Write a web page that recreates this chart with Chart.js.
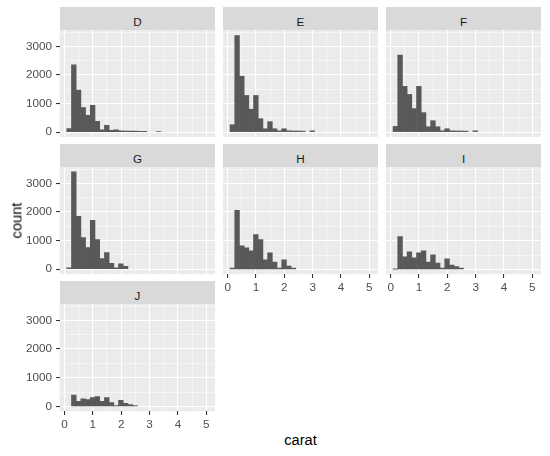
<!DOCTYPE html>
<html>
<head>
<meta charset="utf-8">
<script src="https://cdn.jsdelivr.net/npm/chart.js@4.4.1/dist/chart.umd.min.js"></script>
<style>
html,body{margin:0;padding:0;background:#ffffff;width:550px;height:456px;overflow:hidden;font-family:"Liberation Sans",Arial,sans-serif;}
.strip{position:absolute;background:#D9D9D9;color:#1A1A1A;font-size:11.7px;text-align:center;box-sizing:border-box;}
.strip span{display:block;line-height:23px;position:relative;top:2.5px;}
canvas{position:absolute;}
.axtitle{position:absolute;color:#000000;font-size:14.67px;font-weight:normal;line-height:17px;text-align:center;white-space:nowrap;}
</style>
</head>
<body>
<script>
// ---- data ----
const facetLabels = ['D','E','F','G','H','I','J'];
const binCenters = [0.166,0.332,0.498,0.663,0.829,0.995,1.161,1.327,1.493,1.659,
                    1.825,1.990,2.156,2.322,2.488,2.654,2.820,2.986,3.151,3.317,
                    3.483,3.649,3.815,3.981,4.147,4.312,4.478,4.644,4.810,4.976];
const countD = [120,2350,1470,860,590,940,376,82,235,59,82,45,40,40,35,30,25,0,0,20,0,0,0,0,0,0,0,0,0,0];
const countE = [259,3376,1953,1282,800,1282,470,118,365,118,47,118,47,40,40,35,0,47,0,0,0,0,0,0,0,0,0,0,0,0];
const countF = [200,2694,1600,1318,824,1600,682,188,400,188,47,118,47,40,40,35,0,47,0,0,0,0,0,0,0,0,0,0,0,0];
const countG = [47,3400,1847,1106,753,1706,1035,365,576,200,47,188,94,0,0,0,0,0,0,0,0,0,0,0,0,0,0,0,0,0];
const countH = [47,2059,824,753,647,1212,1035,329,576,259,47,329,118,47,0,0,0,0,0,0,0,0,0,0,0,0,0,0,0,0];
const countI = [10,1141,435,612,400,576,647,259,506,224,47,365,153,94,47,0,0,0,0,0,0,0,0,0,0,0,0,0,0,0];
const countJ = [0,391,178,261,237,308,344,178,308,130,24,213,107,59,24,0,0,0,0,0,0,0,0,0,0,0,0,0,0,0];
const xBreaks = [0,0.5,1,1.5,2,2.5,3,3.5,4,4.5,5];
const yBreaks = [0,500,1000,1500,2000,2500,3000,3500];
const xTickLabels = ['0','1','2','3','4','5'];
const yTickLabels = ['0','1000','2000','3000'];
const xTitle = 'carat';
const yTitle = 'count';

const counts = [countD,countE,countF,countG,countH,countI,countJ];

// ---- layout ----
const panelLeft = [60, 223, 386];
const panelW = 155;
const stripTop = [7, 144, 281];
const stripH = 23;
const panelH = 107;

// scale limits (ggplot-style 5% expansion)
const bw = binCenters[1] - binCenters[0];
const xLo0 = binCenters[0] - bw/2, xHi0 = binCenters[binCenters.length-1] + bw/2;
const xPad = 0.05 * (xHi0 - xLo0);
const yMaxData = Math.max(...counts.flat());
const yLo = -0.05 * yMaxData, yHi = 1.05 * yMaxData;

const isMajorX = v => xTickLabels.includes(String(Math.round(v*1000)/1000));
const isMajorY = v => yTickLabels.includes(String(Math.round(v)));

Chart.defaults.font.family = '"Liberation Sans", Arial, sans-serif';

const panelBg = {
  id: 'panelBg',
  beforeDraw(chart) {
    const {ctx, chartArea: a} = chart;
    ctx.save();
    ctx.fillStyle = '#EBEBEB';
    ctx.fillRect(a.left, a.top, a.right - a.left, a.bottom - a.top);
    ctx.restore();
  }
};

function makeConfig(i, hasX, hasY) {
  const data = binCenters.map((x, k) => ({x: x, y: counts[i][k] > 0 ? counts[i][k] : null}));
  return {
    type: 'bar',
    data: {datasets: [{data: data, backgroundColor: '#595959', borderWidth: 0, barPercentage: 1, categoryPercentage: 1}]},
    options: {
      responsive: false, maintainAspectRatio: false, animation: false, events: [],
      layout: {padding: 0, autoPadding: false},
      plugins: {legend: {display: false}, tooltip: {enabled: false}, title: {display: false}},
      scales: {
        x: {
          type: 'linear', offset: false, min: xLo0 - xPad, max: xHi0 + xPad,
          afterBuildTicks(s) { s.ticks = xBreaks.map(v => ({value: v})); },
          afterFit(s) { s.paddingLeft = 0; s.paddingRight = 0; },
          border: {display: false},
          grid: {offset: false, color: '#FFFFFF',
            lineWidth: c => isMajorX(c.tick.value) ? 1.07 : 0.53,
            drawTicks: hasX, tickLength: 3.7, tickWidth: 1.07,
            tickColor: c => isMajorX(c.tick.value) ? '#333333' : 'rgba(0,0,0,0)'},
          ticks: {display: hasX, autoSkip: false, maxRotation: 0, minRotation: 0,
            padding: 3, color: '#4D4D4D', font: {size: 11.7},
            callback: v => isMajorX(v) ? String(Math.round(v)) : ''}
        },
        y: {
          type: 'linear', min: yLo, max: yHi,
          afterBuildTicks(s) { s.ticks = yBreaks.map(v => ({value: v})); },
          afterFit(s) { s.paddingTop = 0; s.paddingBottom = 0; },
          border: {display: false},
          grid: {color: '#FFFFFF',
            lineWidth: c => isMajorY(c.tick.value) ? 1.07 : 0.53,
            drawTicks: hasY, tickLength: 3.7, tickWidth: 1.07,
            tickColor: c => isMajorY(c.tick.value) ? '#333333' : 'rgba(0,0,0,0)'},
          ticks: {display: hasY, autoSkip: false,
            padding: 4, color: '#4D4D4D', font: {size: 11.7},
            callback: v => isMajorY(v) ? String(Math.round(v)) : ''}
        }
      }
    },
    plugins: [panelBg]
  };
}

facetLabels.forEach((lab, i) => {
  const row = Math.floor(i / 3), col = i % 3;
  const hasY = col === 0;
  const hasX = row === 2 || (row === 1 && col > 0);
  const pl = panelLeft[col], st = stripTop[row];
  const pt = st + stripH;

  const strip = document.createElement('div');
  strip.className = 'strip';
  strip.style.left = pl + 'px'; strip.style.top = st + 'px';
  strip.style.width = panelW + 'px'; strip.style.height = stripH + 'px';
  const sp = document.createElement('span'); sp.textContent = lab;
  strip.appendChild(sp); document.body.appendChild(strip);

  // pass 1: measure the space the axes take
  const cv1 = document.createElement('canvas');
  cv1.width = panelW + 80; cv1.height = panelH + 40;
  cv1.style.left = '0px'; cv1.style.top = '0px';
  document.body.appendChild(cv1);
  const c1 = new Chart(cv1, makeConfig(i, hasX, hasY));
  const a1 = c1.chartArea;
  const extraL = a1.left, extraT = a1.top;
  const extraR = c1.width - a1.right, extraB = c1.height - a1.bottom;
  c1.destroy(); cv1.remove();

  // pass 2: exact size so the plot area matches the panel
  const cv = document.createElement('canvas');
  cv.width = Math.round(panelW + extraL + extraR);
  cv.height = Math.round(panelH + extraT + extraB);
  document.body.appendChild(cv);
  const c2 = new Chart(cv, makeConfig(i, hasX, hasY));
  const a2 = c2.chartArea;
  cv.style.left = (pl - a2.left) + 'px';
  cv.style.top = (pt - a2.top) + 'px';
});

// axis titles
const xt = document.createElement('div');
xt.className = 'axtitle'; xt.textContent = xTitle; xt.style.width = '80px';
xt.style.left = ((panelLeft[0] + panelLeft[2] + panelW) / 2 - 40) + 'px';
xt.style.top = '432px';
document.body.appendChild(xt);

const yt = document.createElement('div');
yt.className = 'axtitle'; yt.textContent = yTitle;
yt.style.width = '60px'; yt.style.height = '17px';
yt.style.left = (16.6 - 30) + 'px'; yt.style.top = (220 - 8.5) + 'px';
yt.style.transform = 'rotate(-90deg)';
document.body.appendChild(yt);
</script>
</body>
</html>
